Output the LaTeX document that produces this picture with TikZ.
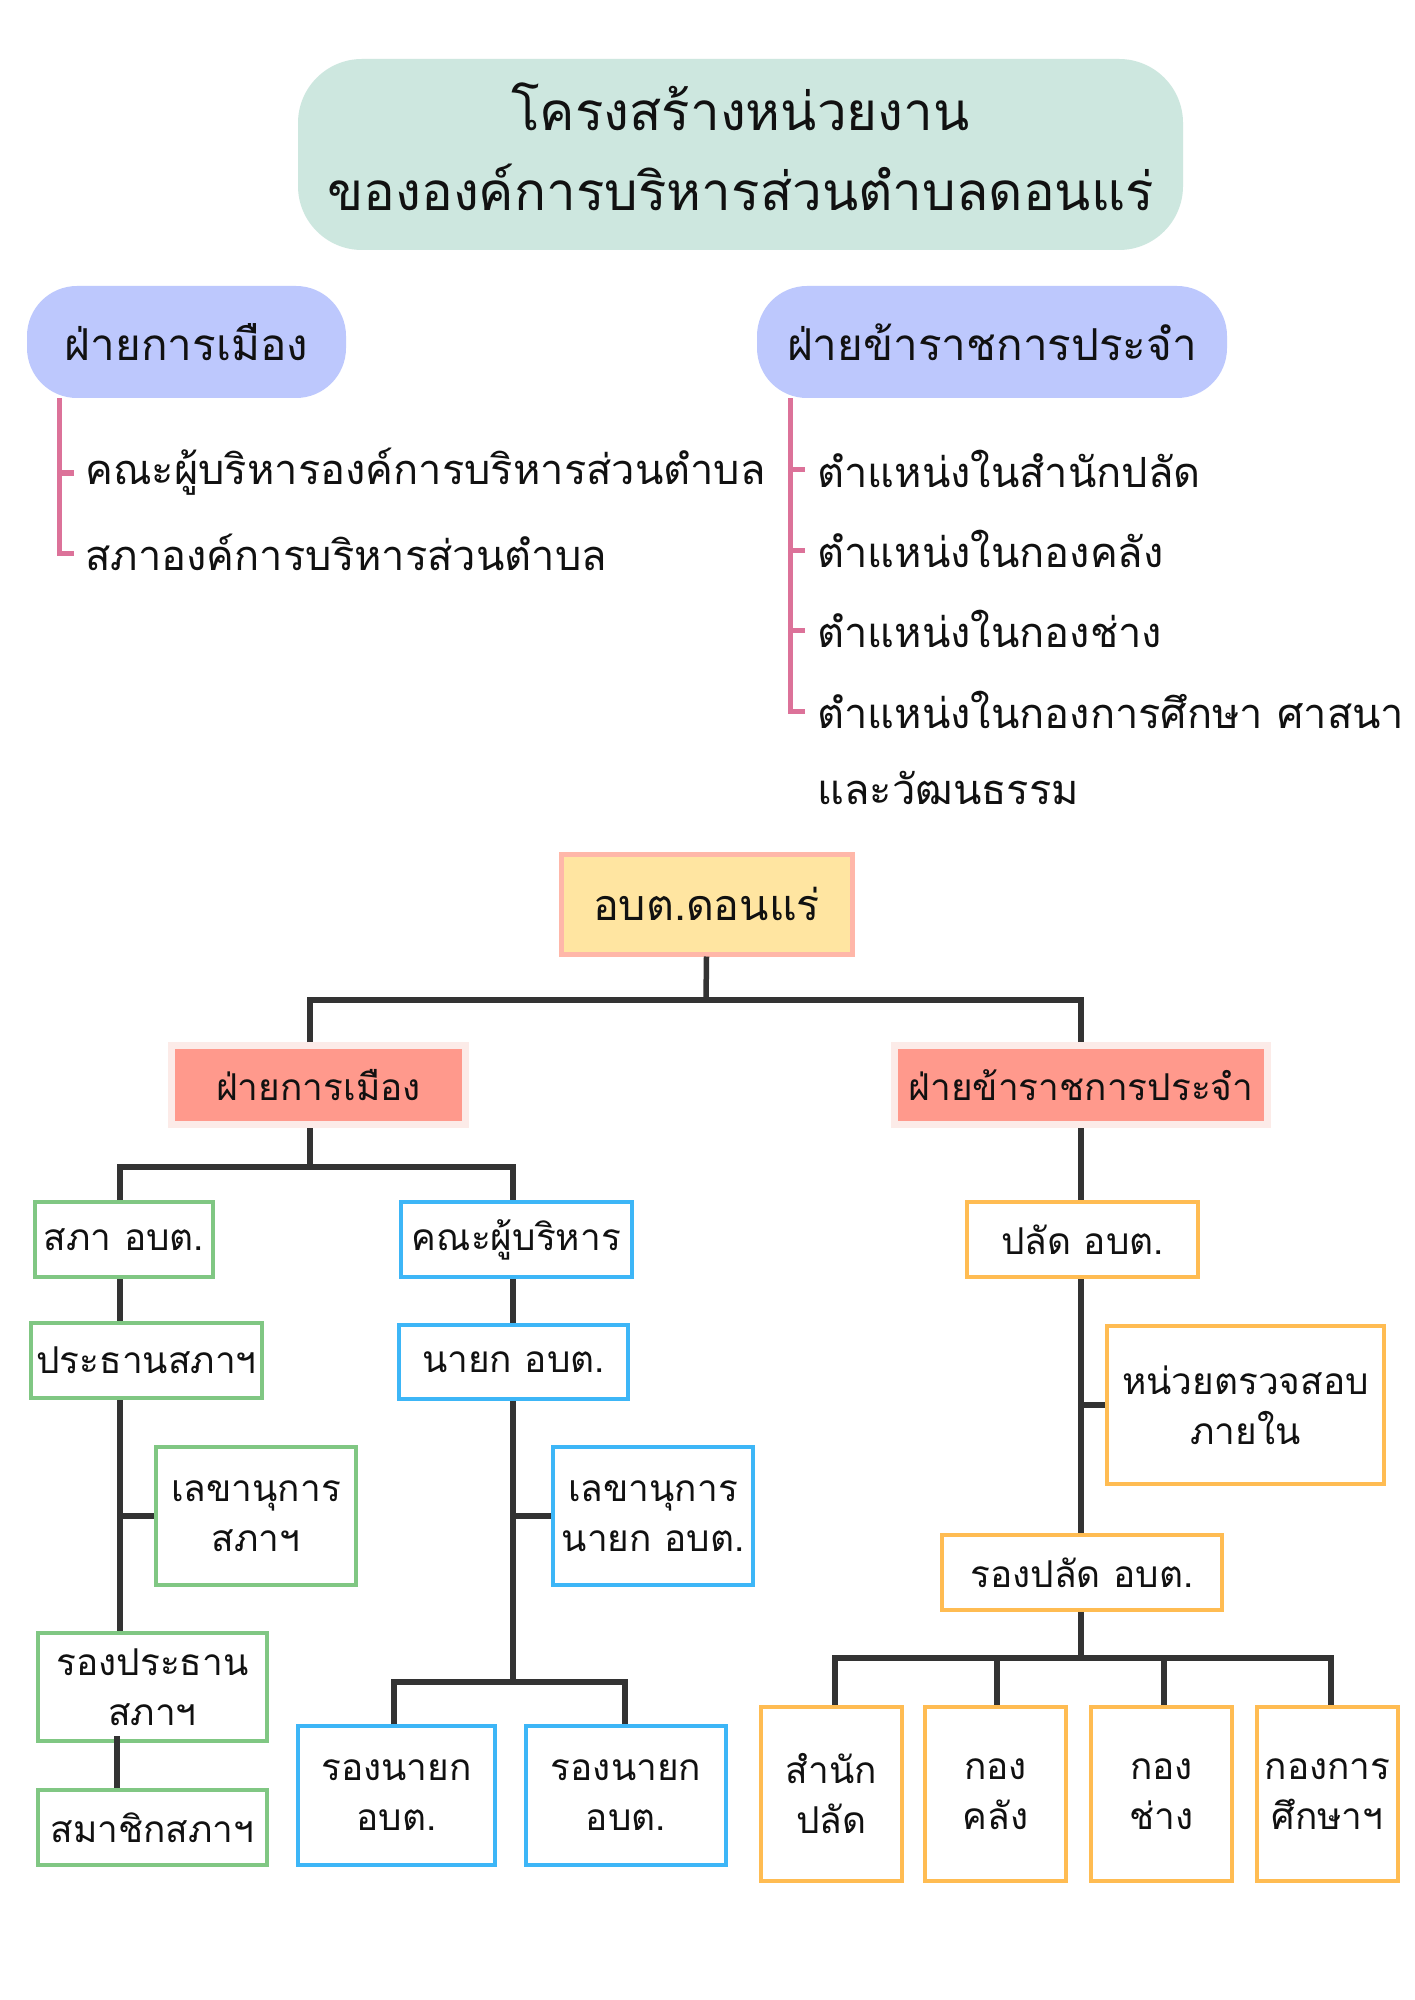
\documentclass[tikz,border=0pt]{standalone}
\usepackage{fontspec}
\setmainfont[Script=Thai]{Loma}
\definecolor{titlefill}{HTML}{CDE7DF}
\definecolor{pillfill}{HTML}{BDC8FD}
\definecolor{pinkln}{HTML}{DC7299}
\definecolor{rootfill}{HTML}{FFE5A1}
\definecolor{rootdraw}{HTML}{FFB7A9}
\definecolor{deptfill}{HTML}{FF998C}
\definecolor{deptdraw}{HTML}{FCEBE8}
\definecolor{grn}{HTML}{80C783}
\definecolor{blu}{HTML}{3DB6F7}
\definecolor{org}{HTML}{FFBC52}
\definecolor{conn}{HTML}{333333}
\definecolor{txt}{HTML}{111111}
\begin{document}
\begin{tikzpicture}[x=0.5pt,y=-0.5pt,
  every node/.style={text=txt},
  titlebox/.style={fill=titlefill, rounded corners=32pt, inner sep=0pt},
  titletxt/.style={align=center, inner sep=0pt, font=\fontsize{26.5}{40}\selectfont},
  pill/.style={fill=pillfill, rounded corners=25pt, inner sep=0pt, minimum height=56pt,
    font=\fontsize{22}{26}\selectfont},
  item/.style={anchor=west, inner sep=0pt, font=\fontsize{20.8}{24}\selectfont},
  pinkline/.style={draw=pinkln, line width=2.5pt},
  rootbox/.style={fill=rootfill, draw=rootdraw, line width=2.5pt, inner sep=0pt,
    minimum width=145.5pt, minimum height=50pt, font=\fontsize{21.5}{24}\selectfont},
  deptbox/.style={fill=deptfill, draw=deptdraw, line width=3.5pt, inner sep=0pt,
    minimum height=39.5pt, font=\fontsize{18.5}{22}\selectfont},
  box/.style={draw, fill=white, line width=2pt, inner sep=0pt, align=center,
    font=\fontsize{18.5}{25}\selectfont},
  gbox/.style={box, draw=grn},
  bbox/.style={box, draw=blu},
  obox/.style={box, draw=org},
  link/.style={draw=conn, line width=2.75pt}
]
\useasboundingbox (0,0) rectangle (1414,2000);
\fill[white] (0,0) rectangle (1414,2000);

% ---- header ----
\node[titlebox, minimum width=442.5pt, minimum height=95.5pt] (title) at (740.5,154.5) {};
\node[titletxt] (titletext) at (740.5,147)
  {โครงสร้างหน่วยงาน\\ขององค์การบริหารส่วนตำบลดอนแร่};

\node[pill, minimum width=159.5pt] (lpill) at (186.5,342) {ฝ่ายการเมือง};
\node[pill, minimum width=235pt] (rpill) at (992,342) {ฝ่ายข้าราชการประจำ};

% left list
\node[item] (li1) at (85,472) {คณะผู้บริหารองค์การบริหารส่วนตำบล};
\node[item] (li2) at (85,552) {สภาองค์การบริหารส่วนตำบล};
\draw[pinkline] (lpill.south -| 59,0) -- (59,553) -- (74,553);
\draw[pinkline] (59,473) -- (74,473);

% right list
\node[item] (ri1) at (817,469) {ตำแหน่งในสำนักปลัด};
\node[item] (ri2) at (817,549) {ตำแหน่งในกองคลัง};
\node[item] (ri3) at (817,629) {ตำแหน่งในกองช่าง};
\node[item] (ri4) at (817,710) {ตำแหน่งในกองการศึกษา ศาสนา};
\node[item] (ri5) at (817,788) {และวัฒนธรรม};
\draw[pinkline] (rpill.south -| 790,0) -- (790,711) -- (805,711);
\draw[pinkline] (790,470) -- (805,470);
\draw[pinkline] (790,550) -- (805,550);
\draw[pinkline] (790,630) -- (805,630);

% ---- org chart ----
\node[rootbox] (root) at (706.5,904) {อบต.ดอนแร่};
\node[deptbox, minimum width=147pt] (lpol) at (318.5,1085) {ฝ่ายการเมือง};
\node[deptbox, minimum width=186.5pt] (rciv) at (1081,1085) {ฝ่ายข้าราชการประจำ};

\draw[link] (root.south) -- (706,1000);
\draw[link] (310,1000 |- lpol.north) -- (310,1000) -- (1081,1000) -- (rciv.north);

% political side
\node[gbox, minimum width=89pt, minimum height=37.5pt] (sapa) at (124,1239.5) {สภา อบต.};
\node[bbox, minimum width=115.5pt, minimum height=37.5pt] (khana) at (516.5,1239.5) {คณะผู้บริหาร};
\draw[link] (310,1128) -- (310,1167);
\draw[link] (120,1200) -- (120,1167) -- (513,1167) -- (513,1200);

\node[gbox, minimum width=115.5pt, minimum height=37.5pt] (pratan) at (146.5,1360.5) {ประธานสภาฯ};
\node[gbox, minimum width=100pt, minimum height=69pt] (lekha1) at (256,1516) {เลขานุการ\\สภาฯ};
\node[gbox, minimum width=114.5pt, minimum height=54pt] (rongpratan) at (152.5,1687) {รองประธาน\\สภาฯ};
\node[gbox, minimum width=114.5pt, minimum height=37.5pt] (samachik) at (152.5,1827.5) {สมาชิกสภาฯ};
\draw[link] (120,1279) -- (120,1321);
\draw[link] (120,1400) -- (120,1631);
\draw[link] (lekha1.west) -- (lekha1.west -| 120,0);
\draw[link] (117,1736) -- (117,1788);

\node[bbox, minimum width=114.5pt, minimum height=37pt] (nayok) at (513.5,1362) {นายก อบต.};
\node[bbox, minimum width=100pt, minimum height=69pt] (lekha2) at (653,1516) {เลขานุการ\\นายก อบต.};
\node[bbox, minimum width=98.5pt, minimum height=69.5pt] (rong1) at (396.5,1795.5) {รองนายก\\อบต.};
\node[bbox, minimum width=100pt, minimum height=69.5pt] (rong2) at (626,1795.5) {รองนายก\\อบต.};
\draw[link] (513,1279) -- (513,1323);
\draw[link] (513,1401) -- (513,1682);
\draw[link] (lekha2.west) -- (lekha2.west -| 513,0);
\draw[link] (394,1724) -- (394,1682) -- (625,1682) -- (625,1724);

% civil side
\node[obox, minimum width=115.5pt, minimum height=37.5pt] (palad) at (1082.5,1239.5) {ปลัด อบต.};
\node[obox, minimum width=138.5pt, minimum height=79pt] (nuai) at (1245.5,1405) {หน่วยตรวจสอบ\\ภายใน};
\node[obox, minimum width=140pt, minimum height=37.5pt] (rongpalad) at (1082,1572.5) {รองปลัด อบต.};
\draw[link] (rciv.south) -- (1081,1200);
\draw[link] (1081,1279) -- (1081,1533);
\draw[link] (nuai.west) -- (nuai.west -| 1081,0);
\draw[link] (1081,1612) -- (1081,1658);

\node[obox, minimum width=70.5pt, minimum height=87pt] (d1) at (831.5,1794) {สำนัก\\ปลัด};
\node[obox, minimum width=70.5pt, minimum height=87pt] (d2) at (995.5,1794) {กอง\\คลัง};
\node[obox, minimum width=70.5pt, minimum height=87pt] (d3) at (1161.5,1794) {กอง\\ช่าง};
\node[obox, minimum width=70.5pt, minimum height=87pt] (d4) at (1327.5,1794) {กองการ\\ศึกษาฯ};
\draw[link] (835,1705) -- (835,1658) -- (1331,1658) -- (1331,1705);
\draw[link] (997,1658) -- (997,1705);
\draw[link] (1164,1658) -- (1164,1705);
\end{tikzpicture}
\end{document}
